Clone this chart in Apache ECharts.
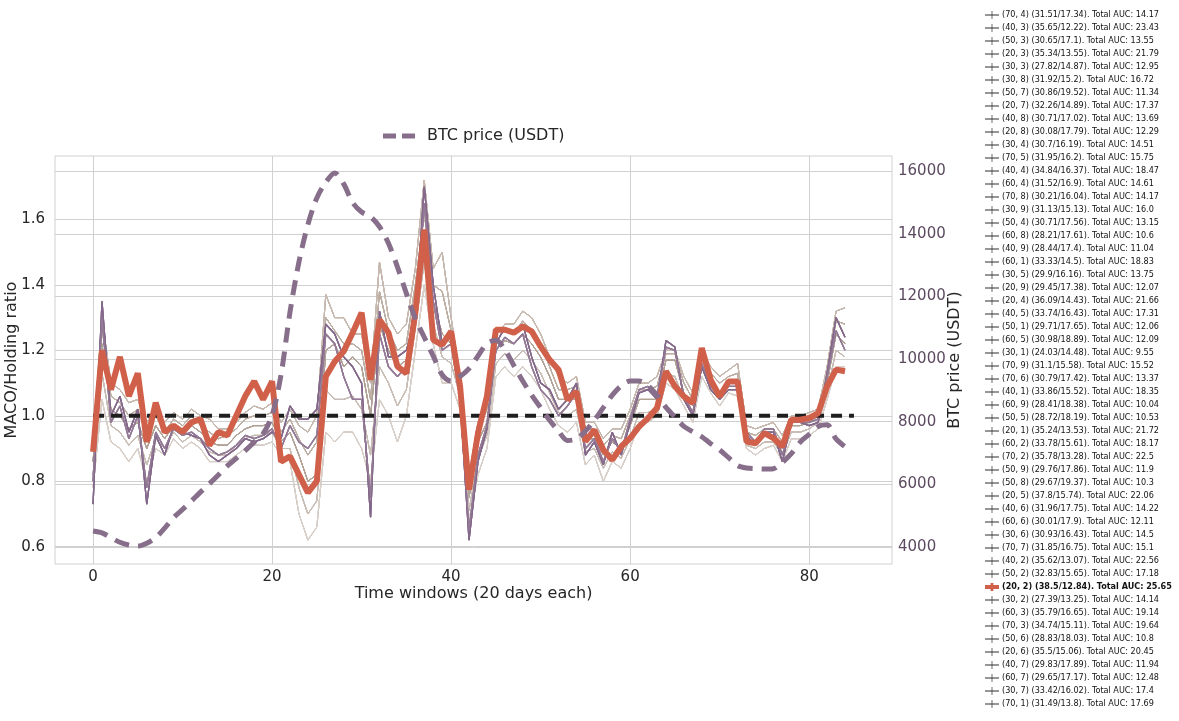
<!DOCTYPE html>
<html lang="en">
<head>
<meta charset="UTF-8">
<title>MACO / Holding ratio</title>
<script src="https://cdn.jsdelivr.net/npm/echarts@6/dist/echarts.min.js"></script>
<style>
    body{ margin:0; background:#fff; }
</style>
</head>
<body>
<div id="main" style="width:1179px;height:721px;"></div>
<script type="text/javascript">
// legend labels, in the order they are listed
var runNames = [
    '(70, 4) (31.51/17.34). Total AUC: 14.17',
    '(40, 3) (35.65/12.22). Total AUC: 23.43',
    '(50, 3) (30.65/17.1). Total AUC: 13.55',
    '(20, 3) (35.34/13.55). Total AUC: 21.79',
    '(30, 3) (27.82/14.87). Total AUC: 12.95',
    '(30, 8) (31.92/15.2). Total AUC: 16.72',
    '(50, 7) (30.86/19.52). Total AUC: 11.34',
    '(20, 7) (32.26/14.89). Total AUC: 17.37',
    '(40, 8) (30.71/17.02). Total AUC: 13.69',
    '(20, 8) (30.08/17.79). Total AUC: 12.29',
    '(30, 4) (30.7/16.19). Total AUC: 14.51',
    '(70, 5) (31.95/16.2). Total AUC: 15.75',
    '(40, 4) (34.84/16.37). Total AUC: 18.47',
    '(60, 4) (31.52/16.9). Total AUC: 14.61',
    '(70, 8) (30.21/16.04). Total AUC: 14.17',
    '(30, 9) (31.13/15.13). Total AUC: 16.0',
    '(50, 4) (30.71/17.56). Total AUC: 13.15',
    '(60, 8) (28.21/17.61). Total AUC: 10.6',
    '(40, 9) (28.44/17.4). Total AUC: 11.04',
    '(60, 1) (33.33/14.5). Total AUC: 18.83',
    '(30, 5) (29.9/16.16). Total AUC: 13.75',
    '(20, 9) (29.45/17.38). Total AUC: 12.07',
    '(20, 4) (36.09/14.43). Total AUC: 21.66',
    '(40, 5) (33.74/16.43). Total AUC: 17.31',
    '(50, 1) (29.71/17.65). Total AUC: 12.06',
    '(60, 5) (30.98/18.89). Total AUC: 12.09',
    '(30, 1) (24.03/14.48). Total AUC: 9.55',
    '(70, 9) (31.1/15.58). Total AUC: 15.52',
    '(70, 6) (30.79/17.42). Total AUC: 13.37',
    '(40, 1) (33.86/15.52). Total AUC: 18.35',
    '(60, 9) (28.41/18.38). Total AUC: 10.04',
    '(50, 5) (28.72/18.19). Total AUC: 10.53',
    '(20, 1) (35.24/13.53). Total AUC: 21.72',
    '(60, 2) (33.78/15.61). Total AUC: 18.17',
    '(70, 2) (35.78/13.28). Total AUC: 22.5',
    '(50, 9) (29.76/17.86). Total AUC: 11.9',
    '(50, 8) (29.67/19.37). Total AUC: 10.3',
    '(20, 5) (37.8/15.74). Total AUC: 22.06',
    '(40, 6) (31.96/17.75). Total AUC: 14.22',
    '(60, 6) (30.01/17.9). Total AUC: 12.11',
    '(30, 6) (30.93/16.43). Total AUC: 14.5',
    '(70, 7) (31.85/16.75). Total AUC: 15.1',
    '(40, 2) (35.62/13.07). Total AUC: 22.56',
    '(50, 2) (32.83/15.65). Total AUC: 17.18',
    '(20, 2) (38.5/12.84). Total AUC: 25.65',
    '(30, 2) (27.39/13.25). Total AUC: 14.14',
    '(60, 3) (35.79/16.65). Total AUC: 19.14',
    '(70, 3) (34.74/15.11). Total AUC: 19.64',
    '(50, 6) (28.83/18.03). Total AUC: 10.8',
    '(20, 6) (35.5/15.06). Total AUC: 20.45',
    '(40, 7) (29.83/17.89). Total AUC: 11.94',
    '(60, 7) (29.65/17.17). Total AUC: 12.48',
    '(30, 7) (33.42/16.02). Total AUC: 17.4',
    '(70, 1) (31.49/13.8). Total AUC: 17.69'
];
// traced curve each run follows:
// 0 upper, 1 upper-mid, 2 middle, 3 lower-mid, 4 lower, 5 purple, 6 purple b, 7 best run
var runGroup = [
    0,5,1,6,2,3,4,0,1,2,
    3,4,0,1,2,3,4,0,1,2,
    3,4,5,0,1,2,3,4,0,1,
    2,3,6,4,5,0,1,6,2,3,
    4,0,5,1,7,2,3,4,0,6,
    1,2,3,4
];

// MACO/Holding ratio per time window
var ratioHi = [
    0.92,1.30,1.10,1.08,1.04,1.05,0.98,1.02,0.98,1.01,
    0.99,1.02,1.00,0.99,0.96,0.96,0.98,1.01,1.03,1.02,
    1.04,0.98,1.02,0.97,0.95,1.00,1.37,1.30,1.30,1.25,
    1.25,1.10,1.47,1.30,1.25,1.28,1.45,1.72,1.45,1.50,
    1.30,1.12,0.82,0.98,1.05,1.25,1.28,1.28,1.32,1.30,
    1.25,1.18,1.12,1.10,1.12,0.98,0.98,0.93,0.96,0.96,
    1.02,1.10,1.10,1.12,1.20,1.20,1.12,1.07,1.20,1.15,
    1.12,1.14,1.16,0.97,0.96,0.97,0.98,0.94,1.00,1.00,
    1.01,1.02,1.15,1.32,1.33
];
var ratioHi2 = [
    0.89,1.27,1.06,1.04,1.00,1.02,0.94,1.00,0.95,0.99,
    0.97,1.00,0.97,0.95,0.93,0.94,0.96,0.99,1.00,1.00,
    1.01,0.95,0.99,0.93,0.88,0.92,1.30,1.26,1.22,1.22,
    1.20,1.05,1.38,1.26,1.20,1.22,1.40,1.62,1.40,1.38,
    1.26,1.11,0.78,0.95,1.02,1.23,1.26,1.25,1.29,1.26,
    1.22,1.15,1.08,1.08,1.09,0.96,0.96,0.91,0.94,0.93,
    1.00,1.08,1.08,1.09,1.19,1.19,1.10,1.05,1.19,1.13,
    1.10,1.12,1.13,0.95,0.94,0.96,0.96,0.92,0.99,0.99,
    1.00,1.01,1.13,1.29,1.28
];
var ratioMid = [
    0.86,1.22,1.02,1.00,0.96,0.98,0.90,0.97,0.93,0.97,
    0.95,0.97,0.95,0.92,0.91,0.91,0.94,0.96,0.97,0.97,
    0.98,0.92,0.95,0.88,0.80,0.82,1.20,1.22,1.15,1.18,
    1.15,1.00,1.28,1.20,1.15,1.17,1.35,1.55,1.35,1.25,
    1.22,1.10,0.75,0.92,0.98,1.20,1.23,1.22,1.25,1.22,
    1.18,1.12,1.05,1.05,1.05,0.93,0.93,0.88,0.92,0.90,
    0.97,1.05,1.05,1.05,1.17,1.17,1.07,1.03,1.18,1.10,
    1.07,1.10,1.10,0.93,0.92,0.94,0.94,0.90,0.97,0.97,
    0.98,1.00,1.10,1.25,1.22
];
var ratioLo2 = [
    0.82,1.13,0.97,0.95,0.91,0.94,0.85,0.93,0.90,0.95,
    0.92,0.94,0.92,0.89,0.88,0.88,0.91,0.93,0.94,0.94,
    0.95,0.90,0.90,0.78,0.70,0.74,1.08,1.05,1.05,1.06,
    1.02,0.88,1.15,1.10,1.03,1.08,1.27,1.47,1.28,1.18,
    1.16,1.06,0.71,0.87,0.94,1.16,1.19,1.17,1.20,1.17,
    1.13,1.07,1.01,1.00,1.02,0.89,0.90,0.84,0.89,0.87,
    0.93,1.01,1.01,1.02,1.13,1.12,1.05,1.00,1.15,1.08,
    1.05,1.08,1.08,0.91,0.90,0.92,0.92,0.88,0.95,0.95,
    0.96,0.98,1.07,1.20,1.18
];
var ratioLo = [
    0.78,1.05,0.92,0.90,0.86,0.90,0.80,0.90,0.88,0.93,
    0.90,0.92,0.90,0.86,0.86,0.86,0.88,0.90,0.91,0.91,
    0.92,0.88,0.86,0.70,0.62,0.66,0.95,0.92,0.95,0.95,
    0.90,0.80,1.05,1.00,0.92,1.00,1.20,1.40,1.22,1.10,
    1.10,1.02,0.68,0.82,0.90,1.12,1.15,1.12,1.15,1.12,
    1.08,1.02,0.97,0.95,0.98,0.85,0.88,0.80,0.86,0.84,
    0.90,0.98,0.98,1.00,1.10,1.08,1.03,0.98,1.12,1.07,
    1.03,1.07,1.06,0.90,0.88,0.90,0.91,0.86,0.93,0.93,
    0.94,0.96,1.05,1.15,1.15
];
var ratioPurple = [
    0.73,1.35,1.00,1.06,0.95,1.02,0.73,0.94,0.88,0.97,
    0.95,0.94,0.93,0.88,0.86,0.88,0.90,0.93,0.92,0.93,
    0.95,0.93,1.03,0.99,0.99,1.02,1.28,1.25,1.18,1.15,
    1.10,0.69,1.32,1.18,1.18,1.20,1.30,1.70,1.40,1.22,
    1.25,1.05,0.62,0.86,0.96,1.22,1.27,1.25,1.28,1.18,
    1.10,1.08,1.02,1.05,1.10,0.88,0.92,0.85,0.95,0.88,
    0.98,1.07,1.08,1.05,1.23,1.21,1.05,1.00,1.15,1.08,
    1.05,1.08,1.08,0.94,0.91,0.95,0.95,0.86,0.98,0.98,
    0.97,0.98,1.13,1.30,1.24
];
var ratioPurple2 = [
    0.80,1.30,0.98,1.03,0.93,1.00,0.78,0.95,0.90,0.96,
    0.94,0.95,0.93,0.90,0.88,0.89,0.91,0.94,0.93,0.94,
    0.96,0.90,0.97,0.92,0.90,0.94,1.25,1.22,1.12,1.05,
    1.05,0.75,1.25,1.15,1.12,1.15,1.28,1.65,1.35,1.20,
    1.22,1.05,0.65,0.88,0.97,1.20,1.24,1.22,1.25,1.15,
    1.08,1.05,1.00,1.03,1.07,0.90,0.93,0.86,0.93,0.89,
    0.99,1.08,1.09,1.06,1.21,1.20,1.06,1.01,1.16,1.09,
    1.06,1.09,1.09,0.95,0.92,0.96,0.96,0.88,0.98,0.98,
    0.98,0.99,1.12,1.26,1.20
];
var ratioBest = [
    0.89,1.20,1.08,1.18,1.06,1.13,0.92,1.04,0.95,0.97,
    0.95,0.98,0.99,0.91,0.95,0.94,1.00,1.06,1.105,1.05,
    1.105,0.86,0.876,0.82,0.765,0.80,1.12,1.166,1.197,1.254,
    1.315,1.11,1.294,1.254,1.151,1.13,1.315,1.569,1.232,1.217,
    1.258,1.09,0.774,0.947,1.06,1.263,1.263,1.254,1.273,1.258,
    1.212,1.171,1.141,1.049,1.074,0.922,0.957,0.896,0.865,0.906,
    0.932,0.967,0.993,1.024,1.136,1.09,1.059,1.039,1.207,1.11,
    1.059,1.105,1.105,0.921,0.916,0.947,0.932,0.906,0.988,0.988,
    0.993,1.008,1.09,1.141,1.136
];
// BTC price (USDT) per time window
var btcPrice = [
    4510,4450,4300,4150,4060,4030,4120,4300,4600,4940,
    5200,5470,5750,6020,6300,6590,6830,7075,7350,7620,
    8200,9500,11500,13100,14300,15150,15650,15950,15600,15000,
    14700,14550,14230,13700,12950,12100,11300,10700,10100,9500,
    9300,9450,9700,10100,10500,10600,10300,9800,9300,8850,
    8450,8050,7700,7400,7450,7700,8050,8450,8850,9150,
    9300,9300,9150,8850,8460,8150,7850,7680,7520,7300,
    7100,6850,6600,6520,6500,6490,6500,6700,6980,7350,
    7600,7850,7900,7450,7200
];
// holding baseline
var baseX = [0, 85];
var baseY = [1, 1];

var xTicks = [0, 20, 40, 60, 80];
var ratioTicks = [0.6, 0.8, 1.0, 1.2, 1.4, 1.6];
var priceTicks = [4000, 6000, 8000, 10000, 12000, 14000, 16000];

var myChart = echarts.init(document.getElementById('main'));

function pairs(vals) {
    var out = [];
    for (var i = 0; i < vals.length; i++) {
        out.push([i, vals[i]]);
    }
    return out;
}

var profiles = [ratioHi, ratioHi2, ratioMid, ratioLo2, ratioLo, ratioPurple, ratioPurple2];
var thinColors = ['#c6b9af', '#bcaea4', '#b1a297', '#c9beb5', '#d8cfc8', '#84688b', '#937a96'];
var red = '#d1604a';
var btcColor = '#876e8a';

var series = [];
var legendData = [];
for (var k = 0; k < runNames.length; k++) {
    var g = runGroup[k];
    if (g === 7) {
        series.push({
            name: runNames[k], type: 'line', data: pairs(ratioBest),
            symbol: 'none', z: 5,
            lineStyle: {color: red, width: 6},
            itemStyle: {color: red}
        });
        legendData.push({
            name: runNames[k],
            icon: 'path://M0,2H20V6H0Z M8,0H12V8H8Z',
            itemStyle: {color: red},
            textStyle: {fontWeight: 'bold'}
        });
    } else {
        var purple = g >= 5;
        series.push({
            name: runNames[k], type: 'line', data: pairs(profiles[g]),
            symbol: 'none', z: purple ? 3 : 2,
            lineStyle: {color: thinColors[g], width: purple ? 1.3 : 0.9, opacity: 0.9},
            itemStyle: {color: thinColors[g]}
        });
        legendData.push({name: runNames[k]});
    }
}
series.push({
    name: 'holding', type: 'line', symbol: 'none', z: 4,
    data: [[baseX[0], baseY[0]], [baseX[1], baseY[1]]],
    lineStyle: {color: '#1f1f1f', width: 4, type: [11, 7]}
});
series.push({
    name: 'BTC price (USDT)', type: 'line', yAxisIndex: 1, symbol: 'none', z: 6,
    smooth: 0.3,
    data: pairs(btcPrice),
    lineStyle: {color: btcColor, width: 5, type: [15, 9]},
    itemStyle: {color: btcColor}
});

var font = 'DejaVu Sans';
var gridLine = {show: true, lineStyle: {color: '#d0d0d0', width: 1}};

var option = {
    animation: false,
    backgroundColor: '#fff',
    grid: {left: 55, right: 287, top: 156, bottom: 157, show: true, borderColor: '#d0d0d0', borderWidth: 1,
        containLabel: false, outerBoundsMode: 'none'},
    legend: [{
        data: legendData,
        orient: 'vertical',
        left: 985, top: 10, padding: 0,
        itemWidth: 14, itemHeight: 8, itemGap: 3,
        icon: 'path://M0,3.5H20V4.5H0Z M9.5,0.5H10.5V7.5H9.5Z',
        symbolKeepAspect: false,
        itemStyle: {color: '#2e2e2e', borderWidth: 0},
        selectedMode: false,
        textStyle: {fontFamily: 'DejaVu Sans Condensed', fontSize: 9, lineHeight: 10, color: '#111', padding: [0, 0, 0, -2]}
    }, {
        data: [{name: 'BTC price (USDT)', icon: 'path://M0,0H13V5H0Z M19,0H32V5H19Z'}],
        left: 383, top: 128, padding: 0,
        itemWidth: 32, itemHeight: 5,
        symbolKeepAspect: false,
        itemStyle: {color: btcColor, borderWidth: 0},
        selectedMode: false,
        textStyle: {fontFamily: font, fontSize: 16, color: '#262626', padding: [0, 0, 0, 7]}
    }],
    xAxis: {
        type: 'value', min: -4.25, max: 89.25,
        name: 'Time windows (20 days each)', nameLocation: 'middle', nameGap: 22, nameMoveOverlap: false,
        nameTextStyle: {fontFamily: font, fontSize: 16, color: '#262626'},
        axisLine: {show: false}, axisTick: {show: false, customValues: xTicks},
        axisLabel: {customValues: xTicks, fontFamily: font, fontSize: 15, color: '#262626', margin: 6},
        splitLine: gridLine
    },
    yAxis: [{
        type: 'value', min: 0.547, max: 1.794, position: 'left',
        name: 'MACO/Holding ratio', nameLocation: 'middle', nameGap: 35, nameRotate: 90, nameMoveOverlap: false,
        nameTextStyle: {fontFamily: font, fontSize: 16, color: '#262626'},
        axisLine: {show: false}, axisTick: {show: false, customValues: ratioTicks},
        axisLabel: {customValues: ratioTicks, fontFamily: font, fontSize: 15, color: '#262626', margin: 10,
            formatter: function (v) { return v.toFixed(1); }},
        splitLine: gridLine
    }, {
        type: 'value', min: 3455, max: 16490, position: 'right',
        name: 'BTC price (USDT)', nameLocation: 'middle', nameGap: 55, nameRotate: 90, nameMoveOverlap: false,
        nameTextStyle: {fontFamily: font, fontSize: 16, color: '#262626'},
        axisLine: {show: false}, axisTick: {show: false, customValues: priceTicks},
        axisLabel: {customValues: priceTicks, fontFamily: font, fontSize: 15, color: '#5c4a60', margin: 6,
            formatter: function (v) { return String(v); }},
        splitLine: gridLine
    }],
    series: series
};
myChart.setOption(option);
</script>
</body>
</html>
